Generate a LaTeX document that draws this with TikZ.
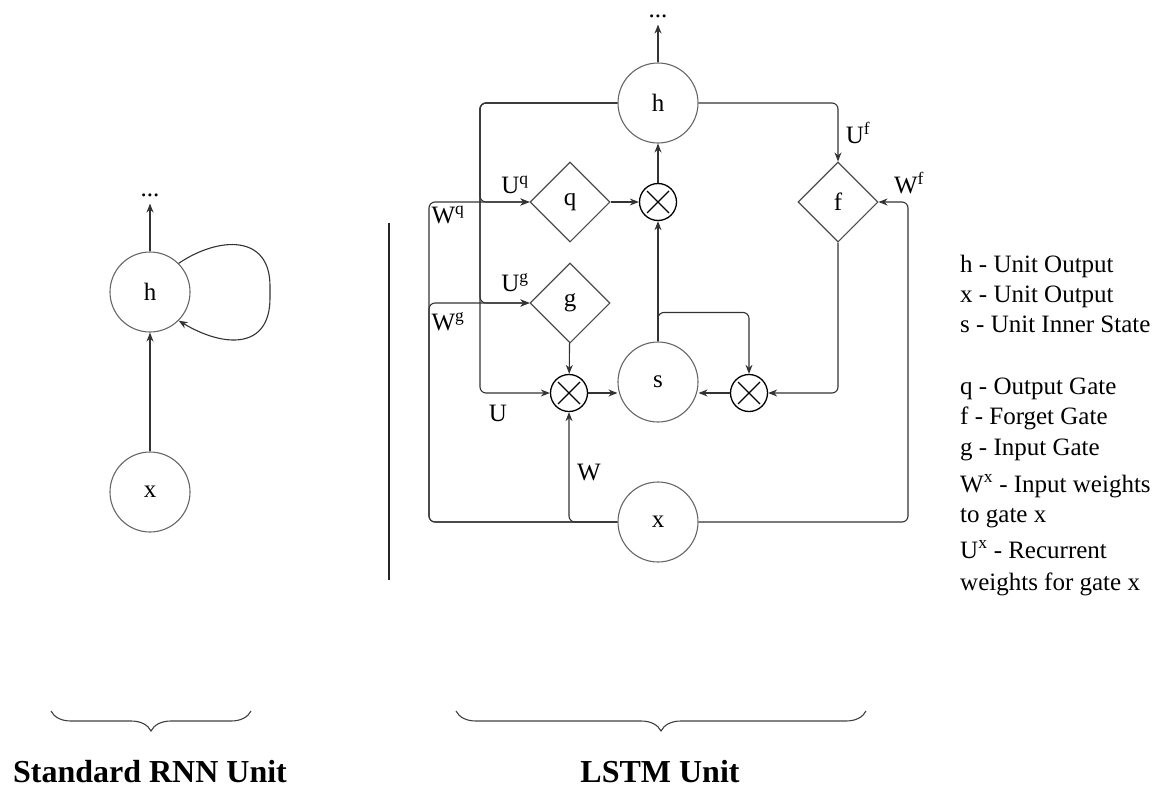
\documentclass[tikz,border=0pt]{standalone}
\usepackage{fontspec}
\setmainfont{Liberation Serif}
\usetikzlibrary{arrows.meta,shapes.geometric,decorations.pathreplacing}

\tikzset{
  no/.style={circle,draw=black!60,line width=1.1pt,minimum size=80pt,inner sep=0pt,font=\fontsize{25}{30}\selectfont},
  porta/.style={diamond,aspect=1,draw=black!70,line width=1.1pt,minimum size=80pt,inner sep=0pt,font=\fontsize{25}{30}\selectfont},
  mult/.style={circle,draw=black,line width=1.3pt,minimum size=37pt,inner sep=0pt,
    path picture={\draw[line width=1.1pt]
      ([shift={(-11pt,-11pt)}]path picture bounding box.center) -- ([shift={(11pt,11pt)}]path picture bounding box.center)
      ([shift={(-11pt,11pt)}]path picture bounding box.center) -- ([shift={(11pt,-11pt)}]path picture bounding box.center);}},
  seta/.style={draw=black!80,line width=1.1pt,-{Stealth[length=9pt,width=7pt]},rounded corners=6pt},
  rot/.style={font=\fontsize{25}{30}\selectfont,inner sep=0pt},
  pontos/.style={font=\fontsize{25}{30}\selectfont,inner sep=0pt,anchor=base},
  titulo/.style={font=\fontsize{32}{38}\selectfont\bfseries,inner sep=0pt},
  chave/.style={decorate,decoration={brace,mirror,amplitude=20pt},draw=black!75,line width=1.1pt},
}

\begin{document}
\begin{tikzpicture}[x=1pt,y=-1pt]
  \useasboundingbox (0,0) rectangle (1171,790);

  % RNN simples
  \node[no] (rh) at (150,292) {h};
  \node[no] (rx) at (150,492) {x};
  \node[pontos] (rp) at (150,196) {...};
  \draw[seta] (rx) -- (rh);
  \draw[seta,shorten >=7pt] (rh) -- (rp);
  \draw[seta] (rh.45) .. controls +(40,-27) and +(0,-58) .. ([xshift=120pt]rh.center)
    .. controls +(0,58) and +(45,27) .. (rh.-45); % laco

  \draw[line width=1.3pt,black!85] (389,223) -- (389,580); % separador

  % LSTM
  \node[no] (h) at (658,103) {h};
  \node[no] (s) at (658,382) {s};
  \node[no] (x) at (658,522) {x};
  \node[porta] (q) at (570,202) {q};
  \node[porta] (g) at (570,303) {g};
  \node[porta] (f) at (838,202) {f};
  \node[mult] (mq) at (658,202) {};
  \node[mult] (mg) at (569,393) {};
  \node[mult] (mf) at (749,393) {};
  \node[pontos] (p) at (658,17) {...};

  \coordinate (cu) at (480,0); % coluna U
  \coordinate (cw) at (429,0); % coluna W
  \coordinate (cd) at (908,0); % coluna direita

  \draw[seta,shorten >=7pt] (h) -- (p);
  \draw[seta] (mq) -- (h);
  \draw[seta] (q) -- (mq);
  \draw[seta] (s) -- (mq);
  \draw[seta] (g) -- (mg);
  \draw[seta] (mg) -- (mg -| s.west);
  \draw[seta] (mf) -- (mf -| s.east);
  \draw[seta] (s.north) -- ++(0,-29) -| (mf);
  \draw[seta] (f) |- (mf);

  % recorrentes (U)
  \draw[seta] (h.west) -| (cu |- q) -- (q);
  \draw[seta] (h.west) -| (cu |- g) -- (g);
  \draw[seta] (h.west) -| (cu |- mg) -- (mg);
  \draw[seta] (h.east) -| (f);

  % entradas (W)
  \draw[seta] (x.west) -| (cw |- q) -- (q);
  \draw[seta] (x.west) -| (cw |- g) -- (g);
  \draw[seta] (x.west) -| (mg);
  \draw[seta] (x.east) -| (cd |- f) -- (f);

  % rotulos
  \node[rot] (lUq) at (515,185) {U\textsuperscript{q}};
  \node[rot] (lWq) at (448,215) {W\textsuperscript{q}};
  \node[rot] (lUg) at (515,283) {U\textsuperscript{g}};
  \node[rot] (lWg) at (448,322) {W\textsuperscript{g}};
  \node[rot] (lU) at (498,413) {U};
  \node[rot] (lW) at (589,472) {W};
  \node[rot] (lUf) at (858,133) {U\textsuperscript{f}};
  \node[rot] (lWf) at (909,183) {W\textsuperscript{f}};

  % legenda
  \foreach \y/\t [count=\i] in {272/h - Unit Output,302/x - Unit Output,332/s - Unit Inner State,
      394/q - Output Gate,424/f - Forget Gate,455/g - Input Gate,492/W\textsuperscript{x} - Input weights,
      522/to gate x,558/U\textsuperscript{x} - Recurrent,590/weights for gate x}{
    \node[rot,anchor=base west] (leg\i) at (960,\y) {\t};
  }

  % chaves e titulos
  \draw[chave] (51,711) -- (251,711);
  \draw[chave] (456,711) -- (866,711);
  \node[titulo,anchor=base] (tr) at (150,782) {Standard RNN Unit};
  \node[titulo,anchor=base] (tl) at (660,782) {LSTM Unit};
\end{tikzpicture}
\end{document}
